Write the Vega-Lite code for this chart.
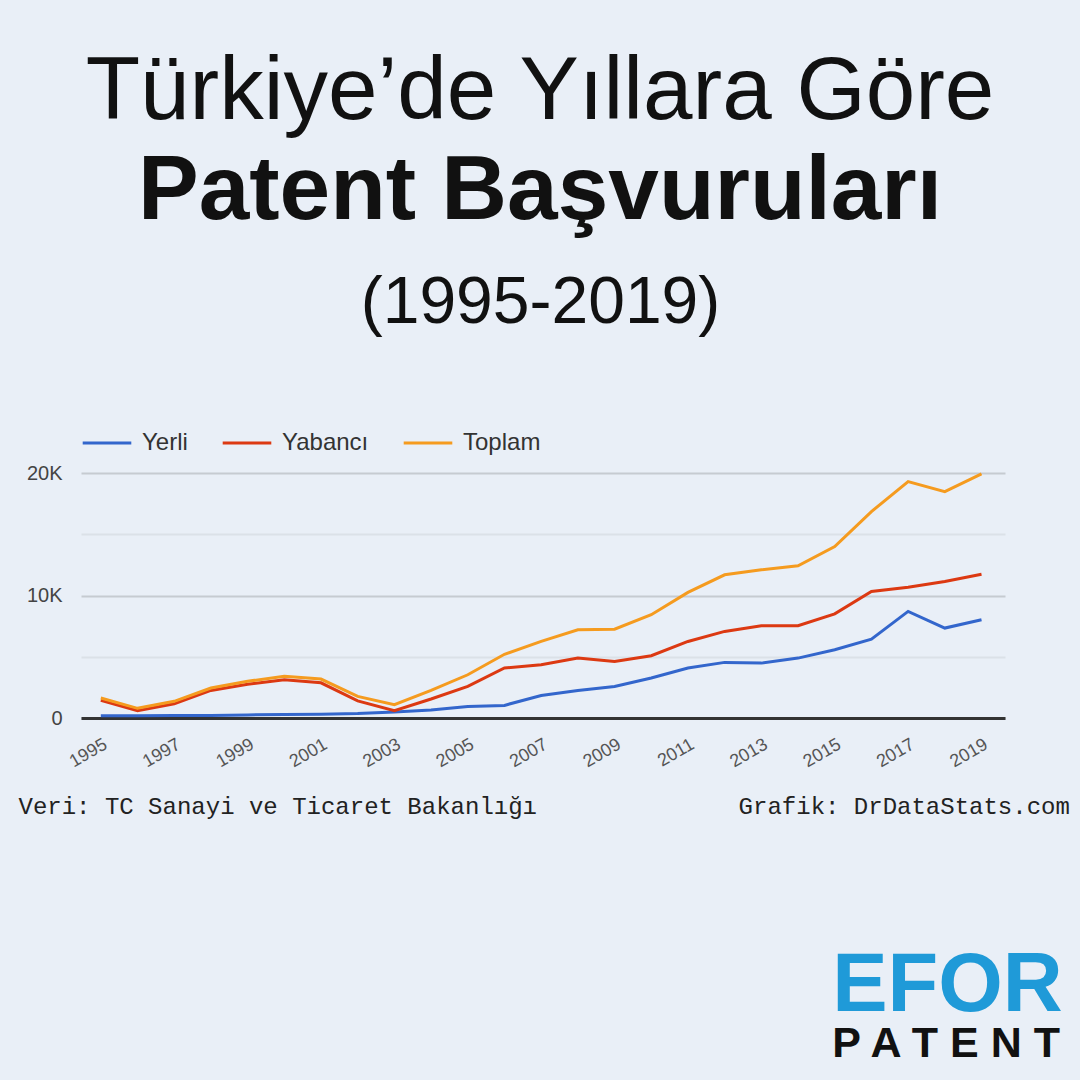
{
  "$schema": "https://vega.github.io/schema/vega-lite/v6.json",
  "width": 924,
  "height": 245,
  "autosize": {"type": "none"},
  "padding": {"left": 81, "top": 473, "right": 75, "bottom": 362},
  "background": "#e9eff7",
  "config": {"view": {"stroke": null}, "legend": {"padding": 0}},
  "title": {
    "text": "Türkiye’de Yıllara Göre",
    "subtitle": "Patent Başvuruları",
    "anchor": "middle",
    "frame": "group",
    "dx": -3,
    "font": "Liberation Sans",
    "fontSize": 89,
    "fontWeight": "normal",
    "color": "#111111",
    "subtitleFont": "Liberation Sans",
    "subtitleFontSize": 91,
    "subtitleFontWeight": "bold",
    "subtitleColor": "#111111",
    "subtitlePadding": 9,
    "offset": 31
  },
  "data": {"values": [
    {"year": 1995, "series": "Yerli", "value": 190},
    {"year": 1996, "series": "Yerli", "value": 190},
    {"year": 1997, "series": "Yerli", "value": 200},
    {"year": 1998, "series": "Yerli", "value": 210},
    {"year": 1999, "series": "Yerli", "value": 250},
    {"year": 2000, "series": "Yerli", "value": 280},
    {"year": 2001, "series": "Yerli", "value": 310},
    {"year": 2002, "series": "Yerli", "value": 360},
    {"year": 2003, "series": "Yerli", "value": 490},
    {"year": 2004, "series": "Yerli", "value": 660},
    {"year": 2005, "series": "Yerli", "value": 930},
    {"year": 2006, "series": "Yerli", "value": 1030},
    {"year": 2007, "series": "Yerli", "value": 1840},
    {"year": 2008, "series": "Yerli", "value": 2250},
    {"year": 2009, "series": "Yerli", "value": 2580},
    {"year": 2010, "series": "Yerli", "value": 3260},
    {"year": 2011, "series": "Yerli", "value": 4080},
    {"year": 2012, "series": "Yerli", "value": 4540},
    {"year": 2013, "series": "Yerli", "value": 4480},
    {"year": 2014, "series": "Yerli", "value": 4890},
    {"year": 2015, "series": "Yerli", "value": 5570},
    {"year": 2016, "series": "Yerli", "value": 6440},
    {"year": 2017, "series": "Yerli", "value": 8700},
    {"year": 2018, "series": "Yerli", "value": 7340},
    {"year": 2019, "series": "Yerli", "value": 8020},
    {"year": 1995, "series": "Yabancı", "value": 1440},
    {"year": 1996, "series": "Yabancı", "value": 600},
    {"year": 1997, "series": "Yabancı", "value": 1160},
    {"year": 1998, "series": "Yabancı", "value": 2250},
    {"year": 1999, "series": "Yabancı", "value": 2750},
    {"year": 2000, "series": "Yabancı", "value": 3120},
    {"year": 2001, "series": "Yabancı", "value": 2870},
    {"year": 2002, "series": "Yabancı", "value": 1400},
    {"year": 2003, "series": "Yabancı", "value": 600},
    {"year": 2004, "series": "Yabancı", "value": 1550},
    {"year": 2005, "series": "Yabancı", "value": 2580},
    {"year": 2006, "series": "Yabancı", "value": 4080},
    {"year": 2007, "series": "Yabancı", "value": 4350},
    {"year": 2008, "series": "Yabancı", "value": 4900},
    {"year": 2009, "series": "Yabancı", "value": 4620},
    {"year": 2010, "series": "Yabancı", "value": 5080},
    {"year": 2011, "series": "Yabancı", "value": 6250},
    {"year": 2012, "series": "Yabancı", "value": 7070},
    {"year": 2013, "series": "Yabancı", "value": 7530},
    {"year": 2014, "series": "Yabancı", "value": 7530},
    {"year": 2015, "series": "Yabancı", "value": 8500},
    {"year": 2016, "series": "Yabancı", "value": 10330},
    {"year": 2017, "series": "Yabancı", "value": 10680},
    {"year": 2018, "series": "Yabancı", "value": 11140},
    {"year": 2019, "series": "Yabancı", "value": 11740},
    {"year": 1995, "series": "Toplam", "value": 1630},
    {"year": 1996, "series": "Toplam", "value": 790},
    {"year": 1997, "series": "Toplam", "value": 1360},
    {"year": 1998, "series": "Toplam", "value": 2450},
    {"year": 1999, "series": "Toplam", "value": 3000},
    {"year": 2000, "series": "Toplam", "value": 3400},
    {"year": 2001, "series": "Toplam", "value": 3180},
    {"year": 2002, "series": "Toplam", "value": 1760},
    {"year": 2003, "series": "Toplam", "value": 1080},
    {"year": 2004, "series": "Toplam", "value": 2250},
    {"year": 2005, "series": "Toplam", "value": 3530},
    {"year": 2006, "series": "Toplam", "value": 5200},
    {"year": 2007, "series": "Toplam", "value": 6250},
    {"year": 2008, "series": "Toplam", "value": 7200},
    {"year": 2009, "series": "Toplam", "value": 7250},
    {"year": 2010, "series": "Toplam", "value": 8430},
    {"year": 2011, "series": "Toplam", "value": 10250},
    {"year": 2012, "series": "Toplam", "value": 11690},
    {"year": 2013, "series": "Toplam", "value": 12100},
    {"year": 2014, "series": "Toplam", "value": 12420},
    {"year": 2015, "series": "Toplam", "value": 14000},
    {"year": 2016, "series": "Toplam", "value": 16850},
    {"year": 2017, "series": "Toplam", "value": 19300},
    {"year": 2018, "series": "Toplam", "value": 18480},
    {"year": 2019, "series": "Toplam", "value": 19930}
  ]},
  "layer": [
    {
      "transform": [{"filter": "datum.series === 'Yerli'"}],
      "mark": {"type": "line", "strokeWidth": 3},
      "encoding": {
        "x": {
          "field": "year", "type": "quantitative",
          "scale": {"domain": [1994.46, 2019.64], "nice": false, "zero": false},
          "axis": {
            "orient": "bottom",
            "values": [1995, 1997, 1999, 2001, 2003, 2005, 2007, 2009, 2011, 2013, 2015, 2017, 2019],
            "format": "d",
            "labelAngle": -30,
            "labelOverlap": false,
            "labelFont": "Liberation Sans",
            "labelFontSize": 18,
            "labelColor": "#555555",
            "labelPadding": 17,
            "ticks": false,
            "grid": false,
            "domain": true,
            "domainColor": "#333333",
            "domainWidth": 3,
            "title": "Veri: TC Sanayi ve Ticaret Bakanlığı\u00a0\u00a0\u00a0\u00a0\u00a0\u00a0\u00a0\u00a0\u00a0\u00a0\u00a0\u00a0\u00a0\u00a0Grafik: DrDataStats.com",
            "titleX": -63,
            "titleY": 95,
            "titleAlign": "left",
            "titleAnchor": "start",
            "titleBaseline": "alphabetic",
            "titleFont": "Liberation Mono",
            "titleFontSize": 24,
            "titleFontWeight": "normal",
            "titleColor": "#222222"
          }
        },
        "y": {
          "field": "value", "type": "quantitative",
          "scale": {"domain": [0, 20000], "nice": false},
          "axis": {
            "orient": "left",
            "values": [0, 5000, 10000, 15000, 20000],
            "labelExpr": "datum.value == 0 ? '0' : (datum.value % 10000 == 0 ? (datum.value / 1000) + 'K' : '')",
            "grid": true,
            "gridColor": {"condition": {"test": "datum.value % 10000 == 0", "value": "#c6cbd1"}, "value": "#dbe1e8"},
            "gridWidth": 2,
            "ticks": false,
            "domain": false,
            "labelFont": "Liberation Sans",
            "labelFontSize": 20,
            "labelColor": "#444444",
            "labelPadding": 19,
            "title": "(1995-2019)",
            "titleAngle": 0,
            "titleX": 459,
            "titleY": -151,
            "titleAlign": "center",
            "titleBaseline": "alphabetic",
            "titleFont": "Liberation Sans",
            "titleFontSize": 66,
            "titleFontWeight": "normal",
            "titleColor": "#111111"
          }
        },
        "color": {
          "field": "series", "type": "nominal",
          "scale": {"domain": ["Yerli", "Yabancı", "Toplam"], "range": ["#3366cc", "#dc3912", "#f59b1f"]},
          "legend": {
            "orient": "none", "legendX": 0, "legendY": -56, "direction": "horizontal",
            "title": null, "symbolType": "stroke", "symbolSize": 2362, "symbolStrokeWidth": 3,
            "labelFont": "Liberation Sans", "labelFontSize": 24, "labelColor": "#333333",
            "labelOffset": 9, "columnPadding": 28
          }
        }
      }
    },
    {
      "transform": [{"filter": "datum.series === 'Yabancı'"}],
      "mark": {"type": "line", "strokeWidth": 3},
      "encoding": {
        "x": {
          "field": "year", "type": "quantitative",
          "axis": {
            "orient": "top", "labels": false, "ticks": false, "domain": false, "grid": false,
            "title": "EFOR", "titleX": 750.7, "titleY": 537.7, "titleAlign": "left", "titleAnchor": "start",
            "titleBaseline": "alphabetic", "titleFont": "Liberation Sans", "titleFontSize": 83,
            "titleFontWeight": "bold", "titleColor": "#1f9ad8"
          }
        },
        "y": {
          "field": "value", "type": "quantitative",
          "axis": {
            "orient": "right", "labels": false, "ticks": false, "domain": false, "grid": false,
            "title": "P A T E N T", "titleAngle": 0, "titleX": -173.3, "titleY": 583.7, "titleAlign": "left", "titleAnchor": "start",
            "titleBaseline": "alphabetic", "titleFont": "Liberation Sans", "titleFontSize": 43,
            "titleFontWeight": "bold", "titleColor": "#111111"
          }
        },
        "color": {"field": "series", "type": "nominal"}
      }
    },
    {
      "transform": [{"filter": "datum.series === 'Toplam'"}],
      "mark": {"type": "line", "strokeWidth": 3},
      "encoding": {
        "x": {"field": "year", "type": "quantitative", "axis": null},
        "y": {"field": "value", "type": "quantitative", "axis": null},
        "color": {"field": "series", "type": "nominal"}
      }
    }
  ],
  "resolve": {"axis": {"x": "independent", "y": "independent"}}
}
